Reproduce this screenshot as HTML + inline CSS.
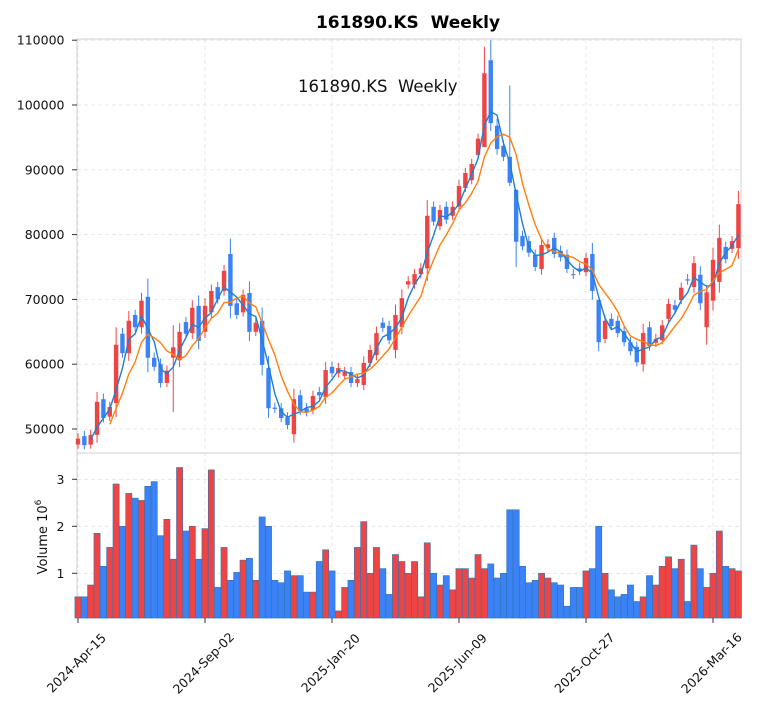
<!DOCTYPE html>
<html><head><meta charset="utf-8"><style>
html,body{margin:0;padding:0;background:#fff;}
svg{display:block;font-family:"DejaVu Sans","Liberation Sans",sans-serif;}
</style></head><body>
<svg id="s" width="762" height="712" xmlns="http://www.w3.org/2000/svg"></svg>
<script>
var C=[[47.6,48.5],[48.9,47.5],[47.6,49.1],[49.1,54.2],[54.6,51.7],[51.9,53.4],[54,63],[64.7,61.7],[61.7,66.7],[67.6,65.7],[65.7,69.8],[70.4,61],[61,59.6],[60,57.1],[57.1,59],[61,62.6],[60.6,65],[66.5,64.7],[64.8,68.7],[69,63.6],[65,69],[68,71.3],[71.9,70],[71.3,74.4],[77,69],[69.4,67.6],[68,70.7],[71,65],[65,66.4],[66.7,59.9],[59.4,53.2],[53.3,53.1],[53.2,51.7],[51.8,50.6],[49.2,54.6],[55.2,52.8],[53.2,52.6],[52.9,55.1],[55.7,55.2],[54.9,59.1],[59.6,58.6],[58.6,59.4],[58.2,58.8],[58.8,57.1],[57.1,57.7],[56.8,60.2],[60.2,62.2],[61.4,64.8],[66.4,65.6],[65.9,63.7],[62.2,67.6],[65.7,70.2],[72.3,72.8],[72.3,73.9],[73.9,74.8],[74.8,82.9],[84.3,82],[81.3,83.8],[84.3,82.3],[82.9,84.3],[84.3,87.5],[87.2,89.5],[88.4,90.9],[92.3,94.8],[93.5,104.9],[106.9,97.2],[96.8,93.2],[93.7,92],[92,88],[86.9,78.9],[79.8,78.2],[79,77.2],[76.9,75],[74.7,78.4],[77.9,78.5],[79.5,77],[77.5,76.5],[76.9,74.7],[73.9,73.8],[74.8,74.4],[74.2,76.4],[77,71.3],[69.9,63.4],[63.9,66.7],[67,65.9],[66.7,64.8],[65.1,63.4],[63.4,62],[62.7,60.3],[60,64.8],[65.7,62.8],[63.3,63.9],[63.7,66],[67,69.3],[69.1,68.4],[69.9,71.8],[73.1,72.9],[71.9,75.6],[73.8,69.4],[65.7,71.1],[69.8,76.1],[72.7,79.5],[78.1,76.2],[77.8,79],[77.9,84.7]];
var V=[.5,.5,.75,1.85,1.15,1.55,2.9,2.0,2.7,2.6,2.55,2.85,2.95,1.8,2.15,1.3,3.25,1.9,2.0,1.3,1.95,3.2,.7,1.55,.85,1.02,1.28,1.32,.85,2.2,2.0,.85,.8,1.05,.95,.95,.6,.6,1.25,1.5,1.05,.2,.7,.85,1.55,2.1,1.0,1.55,1.1,.55,1.4,1.25,1.0,1.25,.5,1.65,1.0,.75,.95,.65,1.1,1.1,.9,1.4,1.1,1.2,.9,1.0,2.35,2.35,1.15,.8,.85,1.0,.9,.8,.75,.3,.7,.7,1.05,1.1,2.0,1.0,.65,.5,.55,.75,.4,.5,.95,.75,1.15,1.35,1.1,1.3,.4,1.6,1.1,.7,1.0,1.9,1.15,1.1,1.05];
var HI={15:[66,52.6],64:[109,94],65:[110,96],68:[103,87.5],69:[87,75],82:[70,62],99:[72,63]};
var RED="#ef4444",BLU="#3b82f6";
function X(i){return 78+6.35*i;}
function Y(p){return 429-(p-50)*6.48;}
function VY(v){return 620.3-v*47;}
var s="";
s+='<g stroke="#e3e3e3" stroke-dasharray="4,3" stroke-width="0.8">';
for(var p=50;p<=110;p+=10)s+='<line x1="77" x2="741" y1="'+Y(p)+'" y2="'+Y(p)+'"/>';
for(var v=1;v<=3;v++)s+='<line x1="77" x2="741" y1="'+VY(v)+'" y2="'+VY(v)+'"/>';
for(var k=0;k<=100;k+=20){var x=X(k);s+='<line x1="'+x+'" x2="'+x+'" y1="39" y2="618"/>';}
s+='</g>';
s+='<rect x="77" y="39" width="664" height="414" fill="none" stroke="#d0d0d0" stroke-width="1"/>';
s+='<rect x="77" y="453" width="664" height="165" fill="none" stroke="#d0d0d0" stroke-width="1"/>';
for(var i=0;i<C.length;i++){var up=C[i][1]>=C[i][0];var x=X(i)-3.1;var y=VY(V[i]);
s+='<rect x="'+x.toFixed(2)+'" y="'+y.toFixed(1)+'" width="6.2" height="'+(618-y).toFixed(1)+'" fill="'+(up?RED:BLU)+'" stroke="#2f74b5" stroke-width="0.6"/>';}
for(var i=0;i<C.length;i++){var o=C[i][0],c=C[i][1],up=c>=o;var hi=Math.max(o,c),lo=Math.min(o,c);
var sp=Math.max(0.8,(hi-lo)*0.3);var h=hi+sp,l=lo-sp*0.8;if(HI[i]){h=HI[i][0];l=HI[i][1];}
var col=up?RED:BLU,x=X(i);
s+='<line x1="'+x+'" x2="'+x+'" y1="'+Y(h)+'" y2="'+Y(l)+'" stroke="'+col+'" stroke-width="1"/>';
var y1=Y(hi),hh=Math.max(1,Y(lo)-y1);
s+='<rect x="'+(x-2.2)+'" y="'+y1+'" width="4.4" height="'+hh+'" fill="'+col+'"/>';}
function ma(n,col){var d="";for(var i=n-1;i<C.length;i++){var t=0;for(var j=i-n+1;j<=i;j++)t+=C[j][1];t/=n;d+=(d?"L":"M")+X(i).toFixed(1)+","+Y(t).toFixed(1);}
s+='<path d="'+d+'" fill="none" stroke="'+col+'" stroke-width="1.4" stroke-linejoin="round"/>';}
ma(3,"#1f7fd0");ma(6,"#ff7f0e");
s+='<g font-size="12.5" fill="#111" text-anchor="end">';
for(var p=50;p<=110;p+=10)s+='<text x="64.5" y="'+(Y(p)+4.5)+'">'+(p*1000)+'</text><line x1="72" x2="77" y1="'+Y(p)+'" y2="'+Y(p)+'" stroke="#333"/>';
for(var v=1;v<=3;v++)s+='<text x="64.5" y="'+(VY(v)+4.5)+'">'+v+'</text><line x1="72" x2="77" y1="'+VY(v)+'" y2="'+VY(v)+'" stroke="#333"/>';
s+='</g>';
s+='<text transform="translate(47,537) rotate(-90)" font-size="13" text-anchor="middle" fill="#111">Volume  10<tspan dy="-6" font-size="9">6</tspan></text>';
var L=["2024-Apr-15","2024-Sep-02","2025-Jan-20","2025-Jun-09","2025-Oct-27","2026-Mar-16"];
for(var k=0;k<6;k++){var x=X(k*20);s+='<line x1="'+x+'" x2="'+x+'" y1="618" y2="623" stroke="#333"/>';
s+='<text transform="translate('+(x-1.5)+',663) rotate(-45)" font-size="12.5" text-anchor="middle" dy="0.35em" fill="#111">'+L[k]+'</text>';}
s+='<text x="408" y="28" font-size="17" font-weight="bold" text-anchor="middle" fill="#000" xml:space="preserve">161890.KS  Weekly</text>';
s+='<text x="298" y="92" font-size="16.5" fill="#111" xml:space="preserve">161890.KS  Weekly</text>';
document.getElementById("s").innerHTML=s;
</script>
</body></html>
